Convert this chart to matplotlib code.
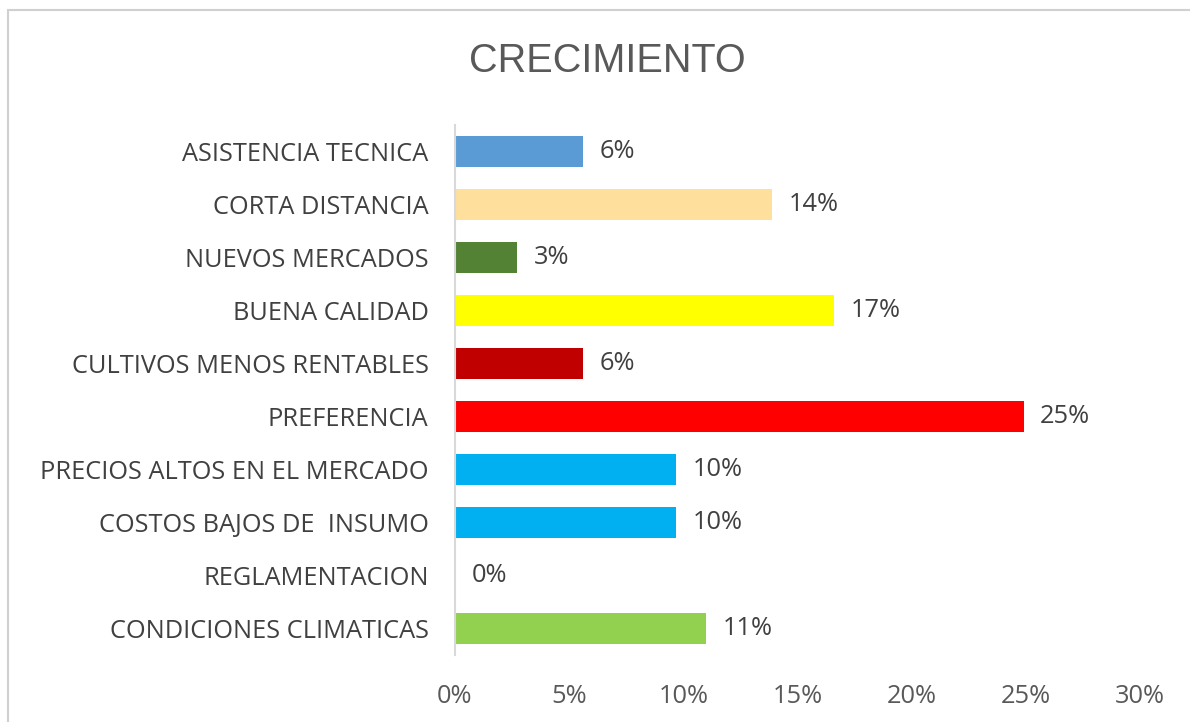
import matplotlib
matplotlib.use("Agg")
import matplotlib.pyplot as plt
from matplotlib.font_manager import fontManager
from matplotlib.patches import Rectangle
from matplotlib.ticker import FuncFormatter

names = {f.name for f in fontManager.ttflist}
label_font = "Open Sans" if "Open Sans" in names else "DejaVu Sans"
title_font = "Liberation Sans Narrow" if "Liberation Sans Narrow" in names else "Liberation Sans"

categories = [
    "ASISTENCIA TECNICA",
    "CORTA DISTANCIA",
    "NUEVOS MERCADOS",
    "BUENA CALIDAD",
    "CULTIVOS MENOS RENTABLES",
    "PREFERENCIA",
    "PRECIOS ALTOS EN EL MERCADO",
    "COSTOS BAJOS DE  INSUMO",
    "REGLAMENTACION",
    "CONDICIONES CLIMATICAS",
]
values = [5.6, 13.9, 2.7, 16.6, 5.6, 24.9, 9.7, 9.7, 0.0, 11.0]
value_labels = ["6%", "14%", "3%", "17%", "6%", "25%", "10%", "10%", "0%", "11%"]
colors = ["#5B9BD5", "#FEE09C", "#548235", "#FFFF00", "#C00000",
          "#FF0000", "#00B0F0", "#00B0F0", "#A5A5A5", "#92D050"]
xticks = [0, 5, 10, 15, 20, 25, 30]
title = "CRECIMIENTO"

fs = 18.3

fig = plt.figure(figsize=(11.9, 7.22), dpi=100)
fig.patch.set_facecolor("white")

# outer chart border (top and left visible)
fig.patches.append(Rectangle((8 / 1190, -0.05), 1.1, 1 - 10 / 722 + 0.05,
                             transform=fig.transFigure, fill=False,
                             edgecolor="#D0D0D0", linewidth=1.5))

ax = fig.add_axes([455 / 1190, 1 - 655 / 722, (1140 - 455) / 1190, (655 - 125) / 722])
ypos = list(range(len(categories)))
ax.barh(ypos, values, height=0.57, color=colors)
ax.set_ylim(len(categories) - 0.5, -0.5)
ax.set_xlim(0, 30)
ax.set_yticks(ypos)
ax.set_yticklabels(categories, fontsize=fs, color="#404040", family=label_font)
ax.set_xticks(xticks)
ax.xaxis.set_major_formatter(FuncFormatter(lambda v, p: f"{v:.0f}%"))
for t in ax.get_xticklabels():
    t.set_fontsize(fs)
    t.set_color("#595959")
    t.set_family(label_font)
ax.tick_params(axis="both", length=0)
ax.tick_params(axis="y", pad=19)
ax.tick_params(axis="x", pad=21)
for s in ["top", "right", "bottom"]:
    ax.spines[s].set_visible(False)
ax.spines["left"].set_color("#D9D9D9")
ax.spines["left"].set_linewidth(1.5)
ax.set_facecolor("none")

for y, v, lab in zip(ypos, values, value_labels):
    ax.annotate(lab, (v, y), xytext=(12, 0), textcoords="offset points",
                va="center", ha="left", fontsize=fs, color="#404040",
                family=label_font)

fig.text(607 / 1190, 1 - 61 / 722, title, ha="center", va="center",
         fontsize=28.5, color="#595959", family=title_font)

fig.savefig("out.png", dpi=100)
